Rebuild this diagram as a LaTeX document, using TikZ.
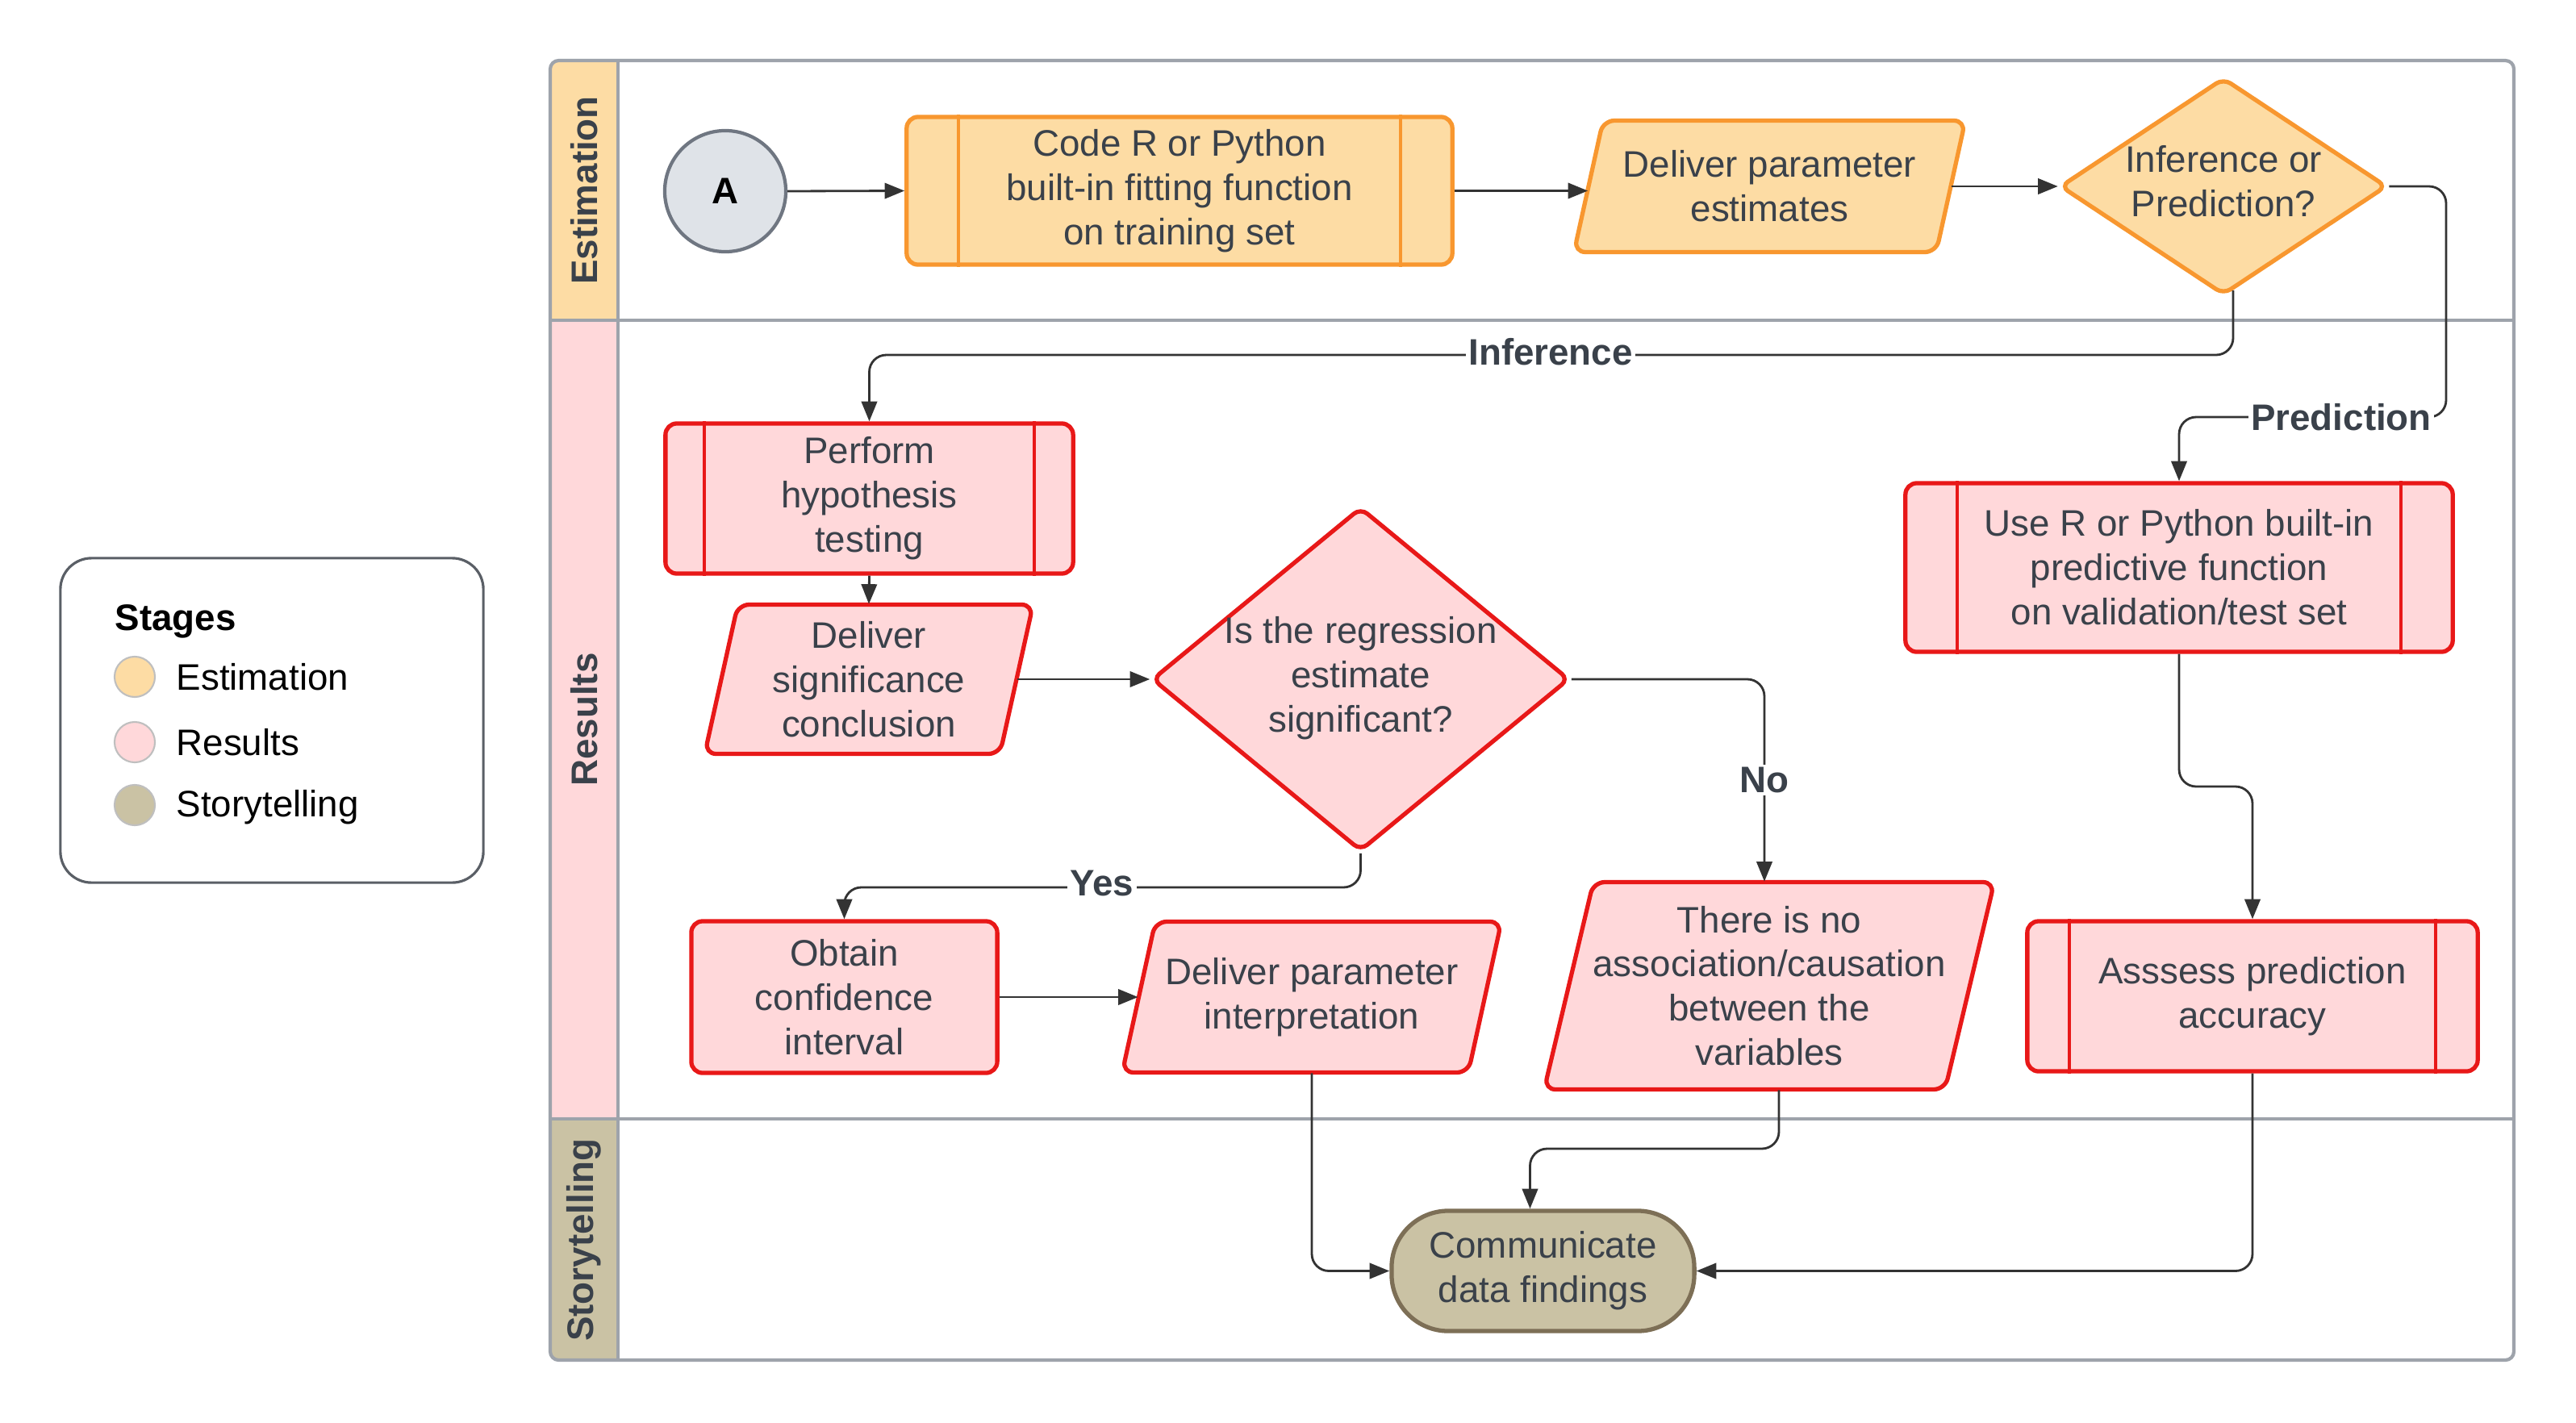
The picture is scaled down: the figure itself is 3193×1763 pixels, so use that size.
\documentclass[tikz,border=0pt]{standalone}
\usepackage{fontspec}
\setmainfont{Liberation Sans}
\usetikzlibrary{arrows.meta,shapes.geometric,calc}
\definecolor{estfill}{HTML}{FDDCA4}
\definecolor{estline}{HTML}{F8972F}
\definecolor{resfill}{HTML}{FFD8DA}
\definecolor{resline}{HTML}{E81818}
\definecolor{stfill}{HTML}{CAC2A4}
\definecolor{stline}{HTML}{7D6F56}
\definecolor{txt}{HTML}{3A414A}
\definecolor{lanegray}{HTML}{9EA3AB}
\definecolor{circfill}{HTML}{DFE3E8}
\definecolor{circline}{HTML}{6F7681}
\definecolor{legline}{HTML}{5A5F66}
\newcommand\myParallelo[6]{\filldraw[#6] ({#1-#3/2},{#2+#4/2}) -- ({#1-#3/2+#5},{#2-#4/2}) -- ({#1+#3/2},{#2-#4/2}) -- ({#1+#3/2-#5},{#2+#4/2}) -- cycle;}
\tikzset{
  every node/.style={font=\fontsize{13}{15.6}\selectfont, text=txt},
  base/.style={align=center, inner sep=0pt},
  proc/.style={base, rectangle, rounded corners=4pt, line width=1.5pt},
  estproc/.style={proc, fill=estfill, draw=estline},
  resproc/.style={proc, fill=resfill, draw=resline},
  estpara/.style={fill=estfill, draw=estline, line width=1.5pt, rounded corners=4pt},
  respara/.style={fill=resfill, draw=resline, line width=1.5pt, rounded corners=4pt},
  paratxt/.style={base, rectangle},
  decide/.style={diamond, inner sep=0pt, line width=1.5pt, rounded corners=3pt},
  estinner/.style={draw=estline, line width=1.2pt},
  resinner/.style={draw=resline, line width=1.2pt},
  conn/.style={draw=black!80, line width=0.8pt, -{Triangle[length=7pt,width=5.5pt]}, rounded corners=6pt},
  lbl/.style={font=\bfseries\fontsize{13}{15.6}\selectfont, fill=white, inner sep=1pt, text=txt},
  lanelabel/.style={font=\bfseries\fontsize{13}{15.6}\selectfont, text=txt, rotate=90},
  lanerule/.style={draw=lanegray, line width=1.2pt},
  legdot/.style={circle, minimum size=0.5cm, inner sep=0pt, line width=0.6pt},
  legtxt/.style={anchor=west, text=black, inner sep=0pt},
}
\begin{document}
\begin{tikzpicture}[x=0.01cm,y=-0.01cm]
\useasboundingbox (0,0) rectangle (3193,1763);
\fill[white] (0,0) rectangle (3193,1763);

% ---------- pool ----------
\begin{scope}
  \clip[rounded corners=3pt] (682,75) rectangle (3116,1686);
  \fill[estfill] (682,75) rectangle (766,397);
  \fill[resfill] (682,397) rectangle (766,1387);
  \fill[stfill] (682,1387) rectangle (766,1686);
\end{scope}
\draw[lanerule, rounded corners=3pt] (682,75) rectangle (3116,1686);
\draw[lanerule] (766,75) -- (766,1686);
\draw[lanerule] (682,397) -- (3116,397);
\draw[lanerule] (682,1387) -- (3116,1387);
\node[lanelabel] (lest) at (724,236) {Estimation};
\node[lanelabel] (lres) at (724,892) {Results};
\node[lanelabel] (lsto) at (724,1537) {Storytelling};

% ---------- Estimation ----------
\node[circle, draw=circline, fill=circfill, line width=1.2pt, minimum size=1.5cm, inner sep=0pt,
      font=\bfseries\fontsize{13}{15.6}\selectfont, text=black] (A) at (899,237) {A};

\node[estproc, minimum width=6.76cm, minimum height=1.83cm] (code) at (1462,236.5)
  {Code R or Python\\built-in fitting function\\on training set};
\draw[estinner] ([xshift=0.67cm]code.north west) -- ([xshift=0.67cm]code.south west)
                ([xshift=-0.67cm]code.north east) -- ([xshift=-0.67cm]code.south east);

\myParallelo{2193.5}{231}{485}{163}{36}{estpara}
\node[paratxt, minimum width=4.49cm, minimum height=1.63cm] (dpe) at (2193.5,231)
  {Deliver parameter\\estimates};

\node[decide, fill=estfill, draw=estline, minimum width=4.05cm, minimum height=2.69cm] (d1) at (2756,231) {};
\node[base] (d1t) at (2756,225) {Inference or\\Prediction?};

% ---------- Results ----------
\node[resproc, minimum width=5.05cm, minimum height=1.86cm] (perf) at (1077.5,618)
  {Perform\\hypothesis\\testing};
\draw[resinner] ([xshift=0.51cm]perf.north west) -- ([xshift=0.51cm]perf.south west)
                ([xshift=-0.51cm]perf.north east) -- ([xshift=-0.51cm]perf.south east);

\myParallelo{1077}{842}{407}{185}{41}{respara}
\node[paratxt, minimum width=3.66cm, minimum height=1.85cm] (dsc) at (1077,842)
  {Deliver\\significance\\conclusion};

\node[decide, fill=resfill, draw=resline, minimum width=5.17cm, minimum height=4.26cm] (d2) at (1686.5,842) {};
\node[base] (d2t) at (1686.5,841) {Is the regression\\estimate\\significant?};

\node[resproc, minimum width=3.79cm, minimum height=1.88cm] (obtain) at (1046.5,1236)
  {\raisebox{-0.2cm}{}Obtain\\confidence\\interval};

\myParallelo{1626}{1236}{470}{187}{41}{respara}
\node[paratxt, minimum width=4.29cm, minimum height=1.87cm] (dpi) at (1626,1236)
  {Deliver parameter\\interpretation};

\myParallelo{2193}{1222}{558}{257}{61}{respara}
\node[paratxt, minimum width=4.97cm, minimum height=2.57cm] (nores) at (2193,1222)
  {There is no\\association/causation\\between the\\variables};

\node[resproc, minimum width=6.78cm, minimum height=2.09cm] (useR) at (2701,703.5)
  {Use R or Python built-in\\predictive function\\on validation/test set};
\draw[resinner] ([xshift=0.67cm]useR.north west) -- ([xshift=0.67cm]useR.south west)
                ([xshift=-0.67cm]useR.north east) -- ([xshift=-0.67cm]useR.south east);

\node[resproc, minimum width=5.58cm, minimum height=1.86cm] (assess) at (2792,1235)
  {Asssess prediction\\accuracy};
\draw[resinner] ([xshift=0.55cm]assess.north west) -- ([xshift=0.55cm]assess.south west)
                ([xshift=-0.55cm]assess.north east) -- ([xshift=-0.55cm]assess.south east);

% ---------- Storytelling ----------
\node[rectangle, rounded corners=20pt, fill=stfill, draw=stline, line width=1.5pt,
      minimum width=3.75cm, minimum height=1.49cm, align=center, inner sep=0pt] (comm) at (1912.5,1575.5)
  {Communicate\\data findings};

% ---------- connectors ----------
\coordinate (infc) at (1922,440);
\coordinate (predc) at (3032,517);
\coordinate (yesc) at (1366,1100);
\coordinate (noc) at (2050,1424);
\coordinate (uac) at (2750,975);

\draw[conn] (A.east) -- (code.west);
\draw[conn] (code.east) -- (code.east -| dpe.west);
\draw[conn] (dpe.east) -- (d1.west);
\draw[conn] ([xshift=0.12cm,yshift=0.08cm]d1.south) |- (infc) -| (perf.north);
\draw[conn] (d1.east) -| (predc) -| (useR.north);
\draw[conn] (perf.south) -- (dsc.north);
\draw[conn] (dsc.east) -- (d2.west);
\draw[conn] (d2.east) -| ([xshift=-0.06cm]nores.north);
\draw[conn] (d2.south) |- (yesc) -| (obtain.north);
\draw[conn] (obtain.east) -- (dpi.west);
\draw[conn] (dpi.south) |- (comm.west);
\draw[conn] ([xshift=0.12cm]nores.south) |- (noc) -| ([xshift=-0.16cm]comm.north);
\draw[conn] (useR.south) |- (uac) -| (assess.north);
\draw[conn] (assess.south) |- (comm.east);

\node[lbl] (linf) at (1922,436) {Inference};
\node[lbl] (lpred) at (2902,517) {Prediction};
\node[lbl] (lyes) at (1366,1095) {Yes};
\node[lbl] (lno) at (2187,967) {No};

% ---------- legend ----------
\node[draw=legline, line width=0.9pt, rounded corners=11pt, minimum width=5.24cm, minimum height=4.02cm,
      inner sep=0pt] (legend) at (337,893) {};
\node[legtxt, font=\bfseries\fontsize{13}{15.6}\selectfont] (stages) at (142,770) {Stages};
\node[legdot, fill=estfill, draw=black!25] (c1) at (167,839) {};
\node[legdot, fill=resfill, draw=black!25] (c2) at (167,920) {};
\node[legdot, fill=stfill, draw=black!25] (c3) at (167,998) {};
\node[legtxt] (t1) at (218,839) {Estimation};
\node[legtxt] (t2) at (218,920) {Results};
\node[legtxt] (t3) at (218,1001) {Storytelling};
\end{tikzpicture}
\end{document}
